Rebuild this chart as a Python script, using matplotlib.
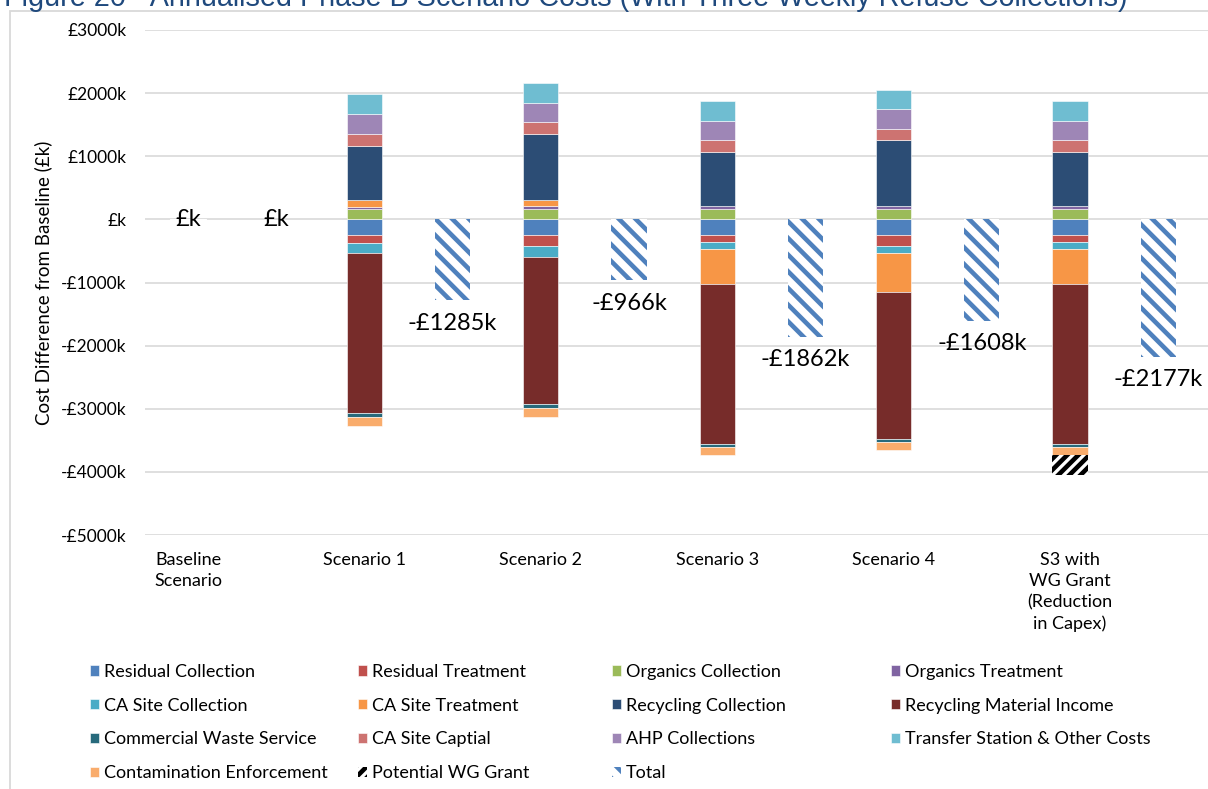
import numpy as np
import matplotlib.pyplot as plt
from matplotlib.patches import Rectangle

# Datos (en £k)
categorias = ["Baseline\nScenario", "Scenario 1", "Scenario 2", "Scenario 3",
              "Scenario 4", "S3 with\nWG Grant\n(Reduction\nin Capex)"]

residual_collection = [0, -248, -253, -248, -253, -248]
residual_treatment = [0, -121, -169, -116, -169, -116]
organics_collection = [0, 158, 163, 158, 158, 158]
organics_treatment = [0, 42, 43, 48, 48, 48]
ca_site_collection = [0, -169, -179, -111, -111, -111]
ca_site_treatment = [0, 112, 106, -553, -617, -553]
recycling_collection = [0, 854, 1044, 865, 1044, 865]
recycling_income = [0, -2532, -2326, -2532, -2331, -2532]
commercial_waste = [0, -58, -63, -43, -43, -43]
ca_site_capital = [0, 190, 184, 179, 185, 179]
ahp_collections = [0, 310, 300, 306, 306, 306]
transfer_station = [0, 324, 317, 316, 311, 316]
contamination = [0, -147, -133, -131, -136, -131]
wg_grant = [0, 0, 0, 0, 0, -315]
totales = [0, -1285, -966, -1862, -1608, -2177]

series = [
    ('Residual Collection', residual_collection, '#4F81BD'),
    ('Residual Treatment', residual_treatment, '#C0504D'),
    ('Organics Collection', organics_collection, '#9BBB59'),
    ('Organics Treatment', organics_treatment, '#8064A2'),
    ('CA Site Collection', ca_site_collection, '#4BACC6'),
    ('CA Site Treatment', ca_site_treatment, '#F79646'),
    ('Recycling Collection', recycling_collection, '#2C4D75'),
    ('Recycling Material Income', recycling_income, '#772C2A'),
    ('Commercial Waste Service', commercial_waste, '#276A7C'),
    ('CA Site Captial', ca_site_capital, '#CD7371'),
    ('AHP Collections', ahp_collections, '#9E86B6'),
    ('Transfer Station & Other Costs', transfer_station, '#6FBDD1'),
    ('Contamination Enforcement', contamination, '#F9AC6C'),
]

plt.rcParams['font.family'] = ['Lato', 'DejaVu Sans']
plt.rcParams['hatch.linewidth'] = 3.3

fig = plt.figure(figsize=(12.08, 7.89), dpi=100)
ax = fig.add_axes([145 / 1208, 1 - 535 / 789, (1208 - 145) / 1208, (535 - 30) / 789])

x = np.arange(len(categorias))
ancho = 0.2
pos = np.zeros(len(x))
neg = np.zeros(len(x))
handles = []

for nombre, vals, color in series:
    v = np.array(vals, dtype=float)
    base = np.where(v >= 0, pos, neg)
    h = ax.bar(x, v, ancho, bottom=base, color=color, edgecolor='white',
               linewidth=0.4, label=nombre)
    pos = pos + np.where(v > 0, v, 0)
    neg = neg + np.where(v < 0, v, 0)
    handles.append(h)

# WG grant
g = np.array(wg_grant, dtype=float)
h_wg = ax.bar(x, g, ancho, bottom=neg, facecolor='white', edgecolor='black',
              linewidth=0, hatch='///', label='Potential WG Grant')
handles.append(h_wg)

# Total
h_tot = ax.bar(x + 0.5, totales, ancho, facecolor='white', edgecolor='#4F81BD',
               linewidth=0, hatch='\\\\', label='Total')
handles.append(h_tot)

for xi, t in zip(x, totales):
    if t == 0:
        ax.text(xi, 0, '£k', ha='center', va='center', fontsize=17)
        ax.text(xi + 0.5, 0, '£k', ha='center', va='center', fontsize=17)
    else:
        ax.annotate(f'-£{abs(t)}k', (xi + 0.5, t), xytext=(0, -23),
                    textcoords='offset pixels', ha='center', va='center', fontsize=17)

ax.set_ylim(-5000, 3000)
ax.set_xlim(-(188 - 145) / 176.4, (1208 - 188) / 176.4)
yt = np.arange(-5000, 3001, 1000)
ax.set_yticks(yt)
ax.set_yticklabels(['£k' if v == 0 else (f'£{v}k' if v > 0 else f'-£{-v}k') for v in yt])
ax.set_xticks(x)
ax.set_xticklabels(categorias)
for lab in ax.get_xticklabels():
    lab.set_linespacing(1.4)
ax.tick_params(axis='y', length=0, pad=13.5, labelsize=12.5)
ax.tick_params(axis='x', length=0, pad=12, labelsize=13)
ax.yaxis.grid(True, color='#D9D9D9', linewidth=1.2)
ax.set_axisbelow(True)
for s in ax.spines.values():
    s.set_visible(False)
ax.set_ylabel('Cost Difference from Baseline (£k)', fontsize=13.5, labelpad=6)

# Leyenda en 4 columnas
col_x = [90, 358, 612, 891]
for c in range(4):
    hs = handles[c::4]
    fig.legend(hs, [h.get_label() for h in hs], loc='upper left',
               bbox_to_anchor=(col_x[c] / 1208, 1 - 664 / 789),
               frameon=False, fontsize=13, borderpad=0, borderaxespad=0,
               handlelength=0.5, handleheight=0.5, handletextpad=0.25,
               labelspacing=0.98)

fig.add_artist(Rectangle((10 / 1208, -0.1), 1.2, 1.1 - 11 / 789, transform=fig.transFigure,
                         facecolor='none', edgecolor='#D9D9D9', linewidth=1.3))

fig.text(0.003, 1 - 6 / 789,
         'Figure 20 - Annualised Phase B Scenario Costs (With Three Weekly Refuse Collections)',
         fontsize=20.7, color='#1F497D', family='Liberation Sans', va='baseline')

fig.savefig('out.png', dpi=100)
